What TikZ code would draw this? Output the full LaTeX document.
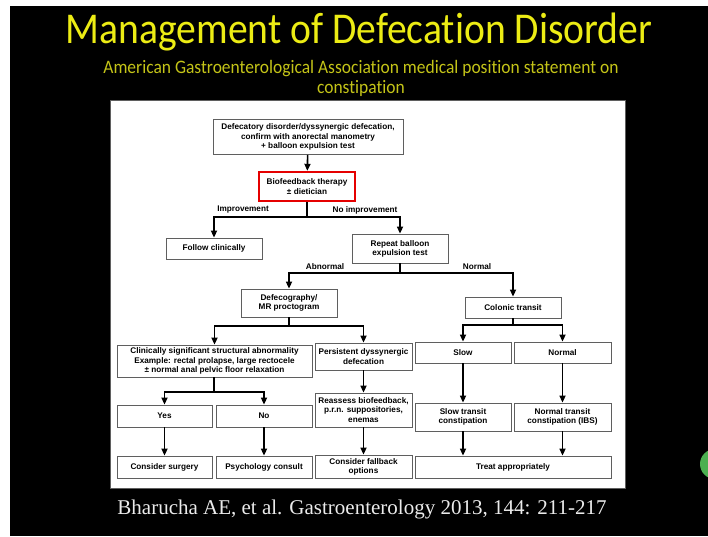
\documentclass[tikz,border=0pt]{standalone}
\usepackage{fontspec}
\usepackage{tikz}
\usetikzlibrary{arrows.meta,calc,positioning}
\newfontfamily\titlefont[Ligatures=NoCommon,FakeStretch=0.9]{Carlito}
\newfontfamily\subfont[Ligatures=NoCommon,FakeStretch=0.92]{Carlito}
\newfontfamily\flowfont{Liberation Sans}
\newfontfamily\citefont{Liberation Serif}
\definecolor{ttlyellow}{RGB}{236,236,20}
\definecolor{subyellow}{RGB}{196,196,24}
\definecolor{boxgray}{RGB}{95,95,95}
\definecolor{dotgreen}{RGB}{76,175,80}

\begin{document}
\begin{tikzpicture}[x=1pt,y=-1pt,
          every node/.style={font=\flowfont\bfseries\fontsize{8.2}{9.2}\selectfont},
          box/.style={draw=boxgray,line width=0.8pt,fill=white,align=center,inner sep=1pt},
          redbox/.style={box,draw=red!90!black,line width=2.4pt},
          link/.style={line width=1.6pt},
          arr/.style={link,-{Triangle[length=7pt,width=6pt]}},
          lbl/.style={inner sep=0pt}]
        \useasboundingbox (0,0) rectangle (708,536);
        % slide
        \fill[white] (0,0) rectangle (708,536);
        \fill[black] (10,6) rectangle (708,536);
        \fill[dotgreen] (715,464) circle (15pt);
        \filldraw[fill=white,draw=boxgray] (110,100) rectangle (625,488);
        % headings
        \node[font=\titlefont\fontsize{44}{46}\selectfont,text=ttlyellow] (title) at (359,32) {Management of Defecation Disorder};
        \node[font=\subfont\fontsize{19}{20}\selectfont,text=subyellow,align=center] (sub) at (361,78)
            {American Gastroenterological Association medical position statement on\\constipation};
        \node[font=\citefont\fontsize{21}{24}\selectfont,text=white!92!black] (cite) at (362,509)
            {Bharucha AE, et al. Gastroenterology 2013, 144: 211-217};
        % top of the chart
        \node[box,minimum width=190pt,minimum height=35pt] (dd) at (308,137)
            {Defecatory disorder/dyssynergic defecation,\\confirm with anorectal manometry\\+ balloon expulsion test};
        \node[redbox,minimum width=96pt,minimum height=29pt] (bio) at (307,186.5) {Biofeedback therapy\\± dietician};
        \node[box,minimum width=96pt,minimum height=21pt] (follow) at (214,248.5) {Follow clinically};
        \node[box,minimum width=96pt,minimum height=29pt] (repeat) at (400,248.5) {Repeat balloon\\expulsion test};
        \node[box,minimum width=96pt,minimum height=28pt] (defeco) at (289,303) {Defecography/\\MR proctogram};
        \node[box,minimum width=96pt,minimum height=21pt] (colonic) at (513,307.5) {Colonic transit};
        % middle row
        \node[box,minimum width=195pt,minimum height=32pt] (clin) at (214.5,361)
            {Clinically significant structural abnormality\\Example: rectal prolapse, large rectocele\\± normal anal pelvic floor relaxation};
        \node[box,minimum width=97pt,minimum height=27pt] (persist) at (363.5,356.5) {Persistent dyssynergic\\defecation};
        \node[box,minimum width=96pt,minimum height=21pt] (slow) at (463,352.5) {Slow};
        \node[box,minimum width=97pt,minimum height=21pt] (normal) at (562.5,352.5) {Normal};
        \node[box,minimum width=95pt,minimum height=22pt] (yes) at (164.5,416) {Yes};
        \node[box,minimum width=96pt,minimum height=22pt] (no) at (264,416) {No};
        \node[box,minimum width=97pt,minimum height=34pt] (reassess) at (363.5,410)
            {Reassess biofeedback,\\p.r.n. suppositories,\\enemas};
        \node[box,minimum width=96pt,minimum height=28pt] (slowtc) at (463,417) {Slow transit\\constipation};
        \node[box,minimum width=97pt,minimum height=28pt] (normtc) at (562.5,417) {Normal transit\\constipation (IBS)};
        % bottom row
        \node[box,minimum width=95pt,minimum height=22pt] (surgery) at (164.5,467) {Consider surgery};
        \node[box,minimum width=96pt,minimum height=22pt] (psych) at (264,467) {Psychology consult};
        \node[box,minimum width=97pt,minimum height=23pt] (fallback) at (363.5,466.5) {Consider fallback\\options};
        \node[box,minimum width=196pt,minimum height=22pt] (treat) at (513,467) {Treat appropriately};
        % branch points
        \coordinate (b1) at (307,217);
        \coordinate (b2) at (400,273);
        \coordinate (b3) at (289,326);
        \coordinate (b4) at (214,392);
        \coordinate (b5) at (513,325);
        % connectors
        \draw[arr] (dd) -- (bio);
        \draw[link] (bio) -- (b1);
        \draw[arr] (b1) -| (follow);
        \draw[arr] (b1) -| (repeat);
        \node[lbl] (imp) at (243,210) {Improvement};
        \node[lbl] (noimp) at (365,210) {No improvement};
        \draw[link] (repeat) -- (b2);
        \draw[arr] (b2) -| (defeco);
        \draw[arr] (b2) -| (colonic);
        \node[lbl] (abn) at (325,267) {Abnormal};
        \node[lbl] (nrm) at (477,267) {Normal};
        \draw[link] (defeco) -- (b3);
        \draw[arr] (b3) -| (clin);
        \draw[arr] (b3) -| (persist);
        \draw[link] (clin.south -| b4) -- (b4);
        \draw[arr] (b4) -| (yes);
        \draw[arr] (b4) -| (no);
        \draw[link] (colonic) -- (b5);
        \draw[arr] (b5) -| (slow);
        \draw[arr] (b5) -| (normal);
        \draw[arr] (persist) -- (reassess);
        \draw[arr] (reassess) -- (fallback);
        \draw[arr] (slow) -- (slowtc);
        \draw[arr] (normal) -- (normtc);
        \draw[arr] (yes) -- (surgery);
        \draw[arr] (no) -- (psych);
        \draw[arr] (slowtc) -- (slowtc |- treat.north);
        \draw[arr] (normtc) -- (normtc |- treat.north);
      \end{tikzpicture}
\end{document}
